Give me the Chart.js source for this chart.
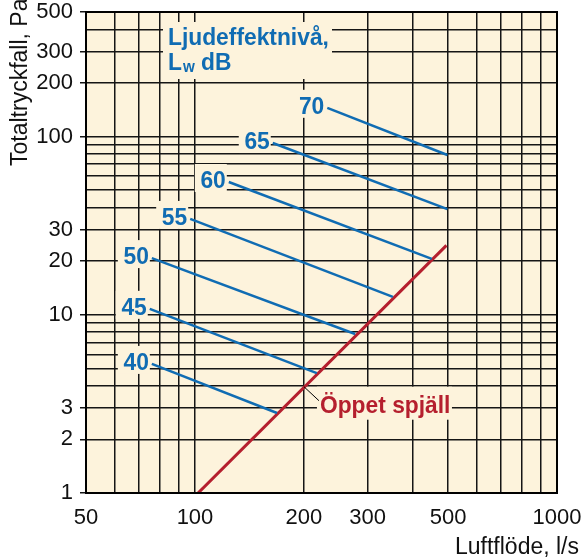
<!DOCTYPE html>
<html><head><meta charset="utf-8">
<script src="https://cdn.jsdelivr.net/npm/chart.js@4.4.1/dist/chart.umd.min.js"></script>
<style>html,body{margin:0;padding:0;background:#fff;}canvas{display:block;}</style>
</head><body>
<canvas id="c" width="587" height="557"></canvas>
<script>
// ---- data ----
const flowGrid = [50,60,70,80,90,100,200,300,400,500,600,700,800,900,1000];
const flowLabels = [50,100,200,300,500,1000];
const pressureGrid = [1,2,3,4,5,6,7,8,9,10,20,30,40,50,60,70,80,90,100,200,300,400,500];
const pressureLabels = [1,2,3,10,20,30,100,200,300,500];

const soundLevels     = [40, 45, 50, 55, 60, 65, 70];
const soundFlowStart  = [76, 75, 76, 97, 124, 164, 232];
const soundPressStart = [5.3, 10.8, 20.8, 34.5, 55.6, 92, 145];
const soundFlowEnd    = [168.5, 217, 277, 352, 451, 498, 498];
const soundPressEnd   = [2.81, 4.71, 7.8, 12.6, 20.6, 39.2, 78.8];

const damperFlow     = [102, 495];
const damperPressure = [1.0, 24.5];
const damperLabelAt  = {x: 200, y: 4};

const xTitle = 'Luftflöde, l/s';
const yTitle = 'Totaltryckfall, Pa';
const legendTitle1 = 'Ljudeffektnivå,';
const damperText = 'Öppet spjäll';

// ---- styles ----
const BLUE = '#106cb3', RED = '#b51f2e', BG = '#fdf3dc', INK = '#151515';
const FONT = '"Liberation Sans", Arial, Helvetica, sans-serif';

function sqText(ctx, text, x, y, align, size, color, weight = 'bold', sx = 0.95) {
  ctx.save();
  ctx.translate(x, y);
  ctx.scale(sx, 1);
  ctx.font = `${weight} ${size}px ${FONT}`;
  ctx.fillStyle = color;
  ctx.textAlign = align;
  ctx.textBaseline = 'alphabetic';
  ctx.fillText(text, 0, 0);
  const w = ctx.measureText(text).width * sx;
  ctx.restore();
  return w;
}
function knock(ctx, x0, y0, x1, y1) { ctx.fillStyle = BG; ctx.fillRect(x0, y0, x1 - x0, y1 - y0); }

function labelAnchor(chart, i) {
  const xs = chart.scales.x, ys = chart.scales.y;
  const px = xs.getPixelForValue(soundFlowStart[i]);
  const py = ys.getPixelForValue(soundPressStart[i]);
  return {right: px - 4, base: py + 6};
}
function damperAnchor(chart) {
  const px = chart.scales.x.getPixelForValue(damperLabelAt.x);
  const py = chart.scales.y.getPixelForValue(damperLabelAt.y);
  return {px, py};
}

const annot = {
  id: 'annot',
  beforeDraw(chart) {
    const {ctx, chartArea: a} = chart;
    ctx.save();
    ctx.fillStyle = '#fff'; ctx.fillRect(0, 0, chart.width, chart.height);
    ctx.fillStyle = BG; ctx.fillRect(a.left, a.top, a.right - a.left, a.bottom - a.top);
    ctx.restore();
  },
  beforeDatasetsDraw(chart) {
    const {ctx} = chart;
    ctx.save();
    knock(ctx, 163, 22, 332, 79);
    soundLevels.forEach((lv, i) => {
      const {right, base} = labelAnchor(chart, i);
      knock(ctx, right - 30, base - 24, right + 2, base + 4);
    });
    const d = damperAnchor(chart);
    knock(ctx, d.px + 13, d.py + 1, d.px + 148, d.py + 34);
    ctx.restore();
  },
  afterDatasetsDraw(chart) {
    const {ctx, chartArea: a} = chart;
    ctx.save();
    ctx.strokeStyle = '#000'; ctx.lineWidth = 2;
    ctx.strokeRect(a.left, a.top, a.right - a.left, a.bottom - a.top);
    // legend title
    sqText(ctx, legendTitle1, 168, 45, 'left', 24, BLUE);
    let x = 168;
    x += sqText(ctx, 'L', x, 70, 'left', 24, BLUE);
    x += sqText(ctx, 'w', x + 1, 72, 'left', 16, BLUE) + 1;
    sqText(ctx, ' dB', x, 70, 'left', 24, BLUE);
    // level numbers
    soundLevels.forEach((lv, i) => {
      const {right, base} = labelAnchor(chart, i);
      sqText(ctx, String(lv), right + 1, base, 'right', 24, BLUE);
    });
    // damper label + leader
    const d = damperAnchor(chart);
    ctx.strokeStyle = '#000'; ctx.lineWidth = 1;
    ctx.beginPath(); ctx.moveTo(d.px, d.py + 1); ctx.lineTo(d.px + 15, d.py + 15); ctx.stroke();
    sqText(ctx, damperText, d.px + 16, d.py + 27, 'left', 24, RED);
    ctx.restore();
  },
  afterDraw(chart) {
    const {ctx} = chart;
    ctx.save();
    ctx.font = `23px ${FONT}`;
    ctx.fillStyle = '#111';
    ctx.textBaseline = 'alphabetic';
    ctx.textAlign = 'right';
    ctx.fillText(xTitle, 579, 554);
    ctx.translate(27, 166);
    ctx.rotate(-Math.PI / 2);
    ctx.textAlign = 'left';
    ctx.fillText(yTitle, 0, 0);
    ctx.restore();
  }
};

const datasets = soundLevels.map((lv, i) => ({
  label: lv + ' dB',
  data: [{x: soundFlowStart[i], y: soundPressStart[i]}, {x: soundFlowEnd[i], y: soundPressEnd[i]}],
  showLine: true, borderColor: BLUE, borderWidth: 2.5, pointRadius: 0, fill: false
}));
datasets.push({
  label: damperText,
  data: damperFlow.map((f, i) => ({x: f, y: damperPressure[i]})),
  showLine: true, borderColor: RED, borderWidth: 3, pointRadius: 0, fill: false
});

new Chart(document.getElementById('c'), {
  type: 'scatter',
  data: {datasets},
  plugins: [annot],
  options: {
    responsive: false, animation: false, devicePixelRatio: 1,
    layout: {padding: {top: 12, right: 30, left: 0, bottom: 0}},
    plugins: {legend: {display: false}, tooltip: {enabled: false}},
    scales: {
      x: {
        type: 'logarithmic', min: 50, max: 1000,
        afterBuildTicks: s => { s.ticks = flowGrid.map(v => ({value: v})); },
        afterFit: s => { s.height = 64; s.paddingLeft = 0; s.paddingRight = 0; },
        ticks: {
          autoSkip: false, maxRotation: 0, minRotation: 0, padding: 12, color: '#111',
          font: {family: FONT, size: 22},
          callback: v => flowLabels.includes(v) ? String(v) : ''
        },
        grid: {color: INK, lineWidth: 1.5, drawTicks: false},
        border: {display: true, color: '#000', width: 2}
      },
      y: {
        type: 'logarithmic', min: 1, max: 500,
        afterBuildTicks: s => { s.ticks = pressureGrid.map(v => ({value: v})); },
        afterFit: s => { s.width = 86; s.paddingTop = 0; s.paddingBottom = 0; },
        ticks: {
          autoSkip: false, padding: 7, color: '#111',
          font: {family: FONT, size: 22},
          callback: v => pressureLabels.includes(v) ? String(v) : ''
        },
        grid: {
          color: INK, lineWidth: 1.5, drawTicks: true, tickLength: 6,
          tickColor: c => (c.tick && pressureLabels.includes(c.tick.value)) ? INK : 'rgba(0,0,0,0)'
        },
        border: {display: true, color: '#000', width: 2}
      }
    }
  }
});
</script>
</body></html>
